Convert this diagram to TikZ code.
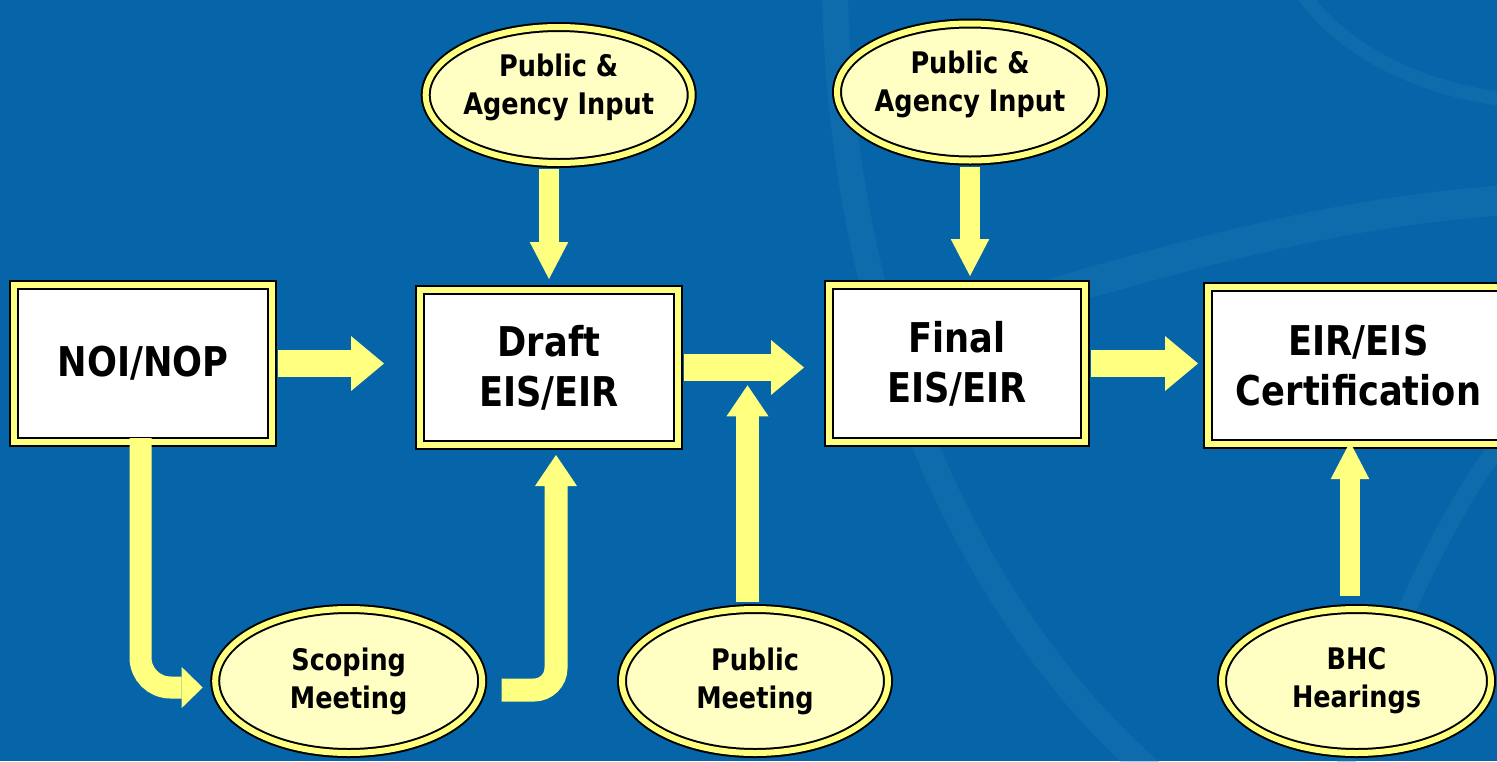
\documentclass[tikz,border=0pt]{standalone}
\usepackage{fontspec}
\newfontfamily\diagfont{DejaVu Sans}[FakeStretch=0.86]
\usetikzlibrary{shapes.geometric, arrows.meta, calc}

\definecolor{bgblue}{RGB}{5,101,168}
\definecolor{bgwater}{RGB}{32,120,182}
\definecolor{bandyellow}{RGB}{255,255,128}
\definecolor{arrowyellow}{RGB}{255,255,128}
\definecolor{ovalfill}{RGB}{255,255,196}

\newcommand{\boxfont}{\diagfont\bfseries\fontsize{41}{50}\selectfont}
\newcommand{\ovalfont}{\diagfont\bfseries\fontsize{29.7}{38}\selectfont}

\tikzset{
  stagebox/.style={rectangle, draw=black, line width=2pt, double=bandyellow, double distance=6pt,
    fill=white, inner sep=0pt, align=center, font=\boxfont},
  inputoval/.style={ellipse, draw=black, line width=2pt, double=bandyellow, double distance=6pt,
    fill=ovalfill, inner sep=0pt, align=center, font=\ovalfont},
  ovaltext/.style={inner sep=0pt, align=center, font=\ovalfont},
  flowarrow/.style={draw=arrowyellow, line width=27.6pt, -{Triangle[length=33pt, width=55pt, line width=0pt]}},
  feedarrow/.style={draw=arrowyellow, line width=20pt, -{Triangle[length=37pt, width=38.6pt, line width=0pt]}},
  riserarrow/.style={draw=arrowyellow, line width=23pt, -{Triangle[length=31pt, width=42pt, line width=0pt]}}
}

\begin{document}
\begin{tikzpicture}[x=1pt, y=-1pt]
\useasboundingbox (0,0) rectangle (1497,761);
\fill[bgblue] (0,0) rectangle (1497,761);
\clip (0,0) rectangle (1497,761);

% faint globe in the background
\begin{scope}[draw=bgwater, opacity=.35]
\draw[line width=26pt] (835,-10) .. controls (840,300) and (950,600) .. (1160,780);
\draw[line width=14pt] (1300,-10) .. controls (1340,50) and (1420,90) .. (1510,100);
\draw[line width=30pt] (1030,300) .. controls (1200,250) and (1350,210) .. (1510,200);
\draw[line width=18pt] (1340,780) .. controls (1390,640) and (1440,520) .. (1510,430);
\end{scope}

% stages
\node[stagebox, minimum width=258pt, minimum height=157pt] (noi) at (143,363.5) {NOI/NOP};
\node[stagebox, minimum width=258pt, minimum height=155pt] (draft) at (549,367.5) {Draft\\EIS/EIR};
\node[stagebox, minimum width=256pt, minimum height=157pt] (final) at (957,363.5) {Final\\EIS/EIR};
\node[stagebox, minimum width=301pt, minimum height=157pt] (cert) at (1358.5,365.5) {EIR/EIS\\Certification};

% inputs
\node[inputoval, minimum width=266pt, minimum height=136pt] (pa1) at (558.7,95) {};
\node[ovaltext] (pa1-text) at ([yshift=8pt]pa1.center) {Public \&\\Agency Input};
\node[inputoval, minimum width=266pt, minimum height=137pt] (pa2) at (970,92) {};
\node[ovaltext] (pa2-text) at ([yshift=8pt]pa2.center) {Public \&\\Agency Input};
\node[inputoval, minimum width=267pt, minimum height=144pt] (scoping) at (348.7,681) {Scoping\\Meeting};
\node[inputoval, minimum width=266pt, minimum height=144pt] (pubmeet) at (755,681) {Public\\Meeting};
\node[inputoval, minimum width=269pt, minimum height=144pt] (bhc) at (1356.5,681) {BHC\\Hearings};

% main flow
\foreach \a/\b/\s in {noi/draft/35, draft/final/24, final/cert/9}{
\draw[flowarrow, shorten <=5pt, shorten >=\s pt] (\a.east) -- (\a.east -| \b.west);
}

% feeds
\draw[feedarrow, shorten <=5pt, shorten >=10pt] (pa1.south -| draft.north) -- (draft.north);
\draw[feedarrow, shorten <=5pt, shorten >=8pt] (pa2.south) -- (pa2.south |- final.north);
\draw[feedarrow, shorten <=12pt, shorten >=-3pt] ([xshift=-6.5pt]bhc.north) -- ([xshift=-6.5pt]bhc.north |- cert.south);
\draw[riserarrow, shorten <=6pt] ([xshift=-7.5pt]pubmeet.north) -- ++(0,-222.7);

\coordinate (ltip) at (202.7,687.5);
\coordinate (jstart) at (501.7,690);
\draw[draw=arrowyellow, line width=22pt, -{Triangle[length=21pt, width=41pt, line width=0pt]},
  rounded corners=30pt, shorten <=-5pt] ([xshift=-2.5pt]noi.south) |- (ltip);
\draw[riserarrow, rounded corners=22pt, shorten >=9pt] (jstart) -| ([xshift=7pt]draft.south);
\end{tikzpicture}
\end{document}
